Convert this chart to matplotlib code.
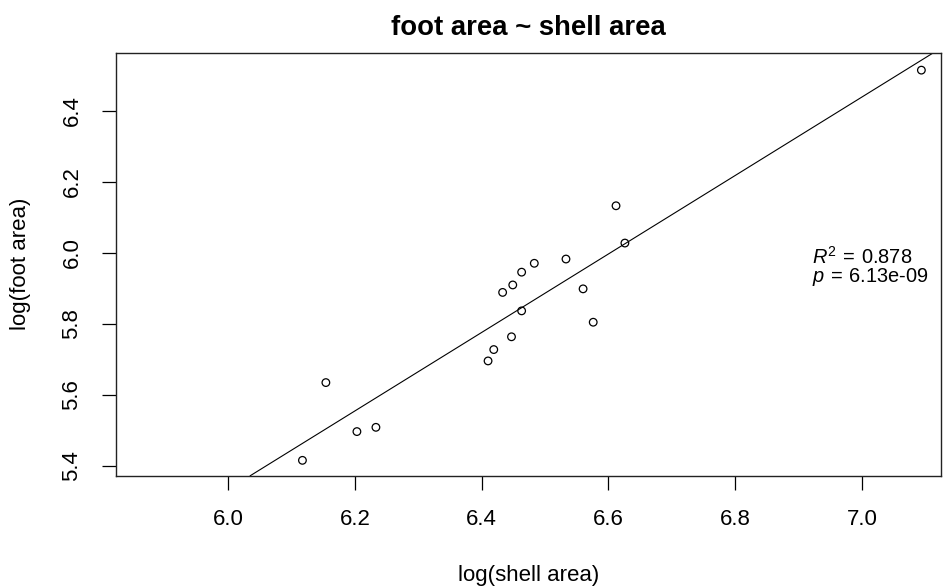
import numpy as np
import matplotlib
matplotlib.use("Agg")
import matplotlib.pyplot as plt

# values (log scale already)
shell_area = [6.117, 6.154, 6.203, 6.233, 6.410, 6.419, 6.447, 6.433, 6.449,
              6.463, 6.483, 6.463, 6.533, 6.560, 6.576, 6.612, 6.626, 7.094]
foot_area = [5.416, 5.635, 5.497, 5.509, 5.696, 5.728, 5.764, 5.889, 5.910,
             5.946, 5.971, 5.837, 5.983, 5.899, 5.805, 6.133, 6.028, 6.515]
x_ticks = [6.0, 6.2, 6.4, 6.6, 6.8, 7.0]
y_ticks = [5.4, 5.6, 5.8, 6.0, 6.2, 6.4]
r2_text = "0.878"
p_text = "6.13e-09"

plt.rcParams["font.family"] = ["Liberation Sans", "DejaVu Sans"]
plt.rcParams["mathtext.fontset"] = "custom"
plt.rcParams["mathtext.rm"] = "Liberation Sans"
plt.rcParams["mathtext.it"] = "Liberation Sans:italic"

fig = plt.figure(figsize=(9.43, 5.86), dpi=100)
ax = fig.add_axes([0.1230, 0.1882, 0.8749, 0.7219])

ax.scatter(shell_area, foot_area, s=30, facecolors="none", edgecolors="black",
           linewidths=0.9, zorder=3)

# least squares line, like abline(lm(...))
slope, intercept = np.polyfit(shell_area, foot_area, 1)
ax.axline((0, intercept), slope=slope, color="black", lw=0.8)

ax.set_xlim(5.8227, 7.125)
ax.set_ylim(5.3727, 6.5642)
ax.set_xticks(x_ticks)
ax.set_yticks(y_ticks)
ax.set_xticklabels([f"{v:.1f}" for v in x_ticks])
ax.set_yticklabels([f"{v:.1f}" for v in y_ticks], rotation=90, va="center")
ax.tick_params(length=9.8, width=0.9, labelsize=16, pad=14.4)

for s in ax.spines.values():
    s.set_linewidth(1.0)
    s.set_color("#222222")

ax.set_title("foot area ~ shell area", fontsize=19.8, fontweight="bold", pad=12.5)
ax.set_xlabel("log(shell area)", fontsize=16, va="center")
ax.xaxis.set_label_coords(0.5, -0.2348)
ax.set_ylabel("log(foot area)", fontsize=16, va="center")
ax.yaxis.set_label_coords(-0.1152, 0.5)

# fit stats, two tight lines in one text like the R legend
# (baseline here is the baseline of the last line)
sp = "\u2004"
stats = (r"$R^2$" + sp + "=" + sp + r2_text + "\n"
         + r"$p$" + sp + "=" + sp + p_text)
ax.text(0.8433, 0.4586, stats, transform=ax.transAxes, fontsize=14.4,
        va="baseline", ha="left", linespacing=0.9)

fig.savefig("out.png", dpi=100)
